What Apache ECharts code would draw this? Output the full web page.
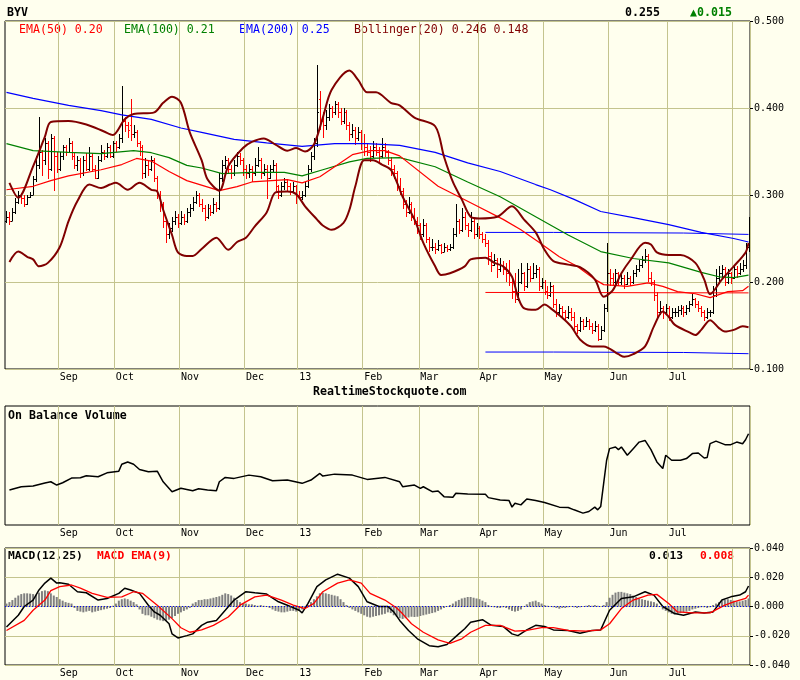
<!DOCTYPE html>
<html><head><meta charset="utf-8">
<script src="https://cdn.jsdelivr.net/npm/echarts@6/dist/echarts.min.js"></script>
<style>html,body{margin:0;padding:0;background:#ffffee}#c{width:800px;height:680px}</style>
</head><body><div id="c"></div>
<script>
// ---------------- DATA ----------------
const N_DAYS = 252;
const monthStarts = [18, 37, 59, 81, 99, 121, 140, 160, 182, 204, 224, 246];
const monthLabels = ['Sep', 'Oct', 'Nov', 'Dec', '13', 'Feb', 'Mar', 'Apr', 'May', 'Jun', 'Jul', ''];

const TICKER = 'BYV';
const LAST_PRICE = '0.255';
const CHANGE = '▲0.015';
const LEGEND_EMA50 = 'EMA(50) 0.20';
const LEGEND_EMA100 = 'EMA(100) 0.21';
const LEGEND_EMA200 = 'EMA(200) 0.25';
const LEGEND_BOLL = 'Bollinger(20) 0.246 0.148';
const MACD_LAST = '0.013';
const SIGNAL_LAST = '0.008';

// daily [open, high, low, close]
const ohlc = [
[0.270,0.282,0.268,0.275],[0.275,0.280,0.266,0.270],[0.270,0.285,0.270,0.280],[0.280,0.296,0.278,0.292],[0.292,0.305,0.290,0.300],[0.300,0.302,0.290,0.296],[0.296,0.300,0.286,0.290],[0.290,0.300,0.288,0.298],[0.298,0.303,0.296,0.300],[0.300,0.322,0.300,0.318],
[0.318,0.345,0.315,0.335],[0.335,0.390,0.330,0.350],[0.350,0.352,0.322,0.340],[0.340,0.365,0.335,0.360],[0.360,0.362,0.318,0.330],[0.330,0.370,0.328,0.365],[0.365,0.368,0.305,0.345],[0.345,0.350,0.325,0.330],[0.330,0.350,0.328,0.345],[0.345,0.358,0.340,0.355],
[0.355,0.358,0.345,0.350],[0.350,0.365,0.348,0.360],[0.360,0.362,0.340,0.345],[0.345,0.350,0.330,0.335],[0.335,0.345,0.328,0.340],[0.340,0.342,0.320,0.325],[0.325,0.345,0.322,0.340],[0.340,0.348,0.328,0.330],[0.330,0.355,0.328,0.345],[0.345,0.348,0.326,0.330],
[0.330,0.335,0.318,0.320],[0.320,0.345,0.318,0.340],[0.340,0.358,0.338,0.350],[0.350,0.352,0.340,0.345],[0.345,0.360,0.343,0.355],[0.355,0.358,0.342,0.345],[0.345,0.362,0.343,0.360],[0.360,0.362,0.350,0.355],[0.355,0.370,0.353,0.365],[0.365,0.425,0.360,0.385],
[0.385,0.390,0.372,0.380],[0.380,0.384,0.365,0.375],[0.380,0.410,0.362,0.370],[0.370,0.380,0.365,0.372],[0.372,0.375,0.355,0.360],[0.360,0.362,0.345,0.355],[0.355,0.357,0.318,0.325],[0.325,0.342,0.320,0.335],[0.335,0.340,0.322,0.330],[0.330,0.345,0.328,0.340],
[0.340,0.342,0.315,0.320],[0.320,0.322,0.295,0.300],[0.300,0.305,0.280,0.290],[0.290,0.292,0.262,0.270],[0.270,0.272,0.245,0.255],[0.255,0.268,0.250,0.262],[0.262,0.275,0.258,0.270],[0.270,0.282,0.265,0.275],[0.275,0.278,0.262,0.268],[0.268,0.282,0.265,0.275],
[0.275,0.278,0.265,0.270],[0.270,0.285,0.268,0.280],[0.280,0.290,0.275,0.285],[0.285,0.298,0.282,0.292],[0.292,0.305,0.290,0.300],[0.300,0.302,0.286,0.290],[0.290,0.295,0.280,0.285],[0.285,0.288,0.270,0.275],[0.275,0.290,0.272,0.285],[0.285,0.288,0.276,0.280],
[0.280,0.296,0.278,0.290],[0.290,0.292,0.280,0.285],[0.285,0.325,0.283,0.320],[0.320,0.340,0.315,0.335],[0.335,0.345,0.330,0.340],[0.340,0.342,0.325,0.330],[0.330,0.335,0.318,0.325],[0.325,0.340,0.322,0.335],[0.335,0.350,0.332,0.345],[0.345,0.348,0.335,0.340],
[0.340,0.342,0.322,0.330],[0.330,0.334,0.318,0.325],[0.325,0.336,0.320,0.330],[0.330,0.333,0.315,0.325],[0.325,0.342,0.322,0.335],[0.335,0.355,0.332,0.340],[0.340,0.342,0.318,0.325],[0.325,0.336,0.322,0.330],[0.330,0.334,0.295,0.320],[0.320,0.335,0.318,0.330],
[0.330,0.340,0.326,0.335],[0.335,0.337,0.305,0.310],[0.310,0.312,0.295,0.300],[0.300,0.315,0.298,0.310],[0.310,0.320,0.306,0.315],[0.315,0.318,0.305,0.310],[0.310,0.314,0.300,0.305],[0.305,0.315,0.302,0.310],[0.310,0.312,0.290,0.300],[0.300,0.305,0.295,0.298],
[0.298,0.305,0.294,0.300],[0.300,0.315,0.298,0.310],[0.310,0.335,0.308,0.330],[0.330,0.350,0.326,0.345],[0.345,0.365,0.340,0.360],[0.360,0.450,0.355,0.395],[0.410,0.420,0.375,0.385],[0.385,0.395,0.365,0.380],[0.380,0.398,0.375,0.390],[0.390,0.405,0.385,0.400],
[0.400,0.402,0.388,0.395],[0.395,0.408,0.392,0.405],[0.405,0.407,0.388,0.395],[0.395,0.400,0.380,0.385],[0.385,0.400,0.382,0.395],[0.395,0.398,0.375,0.380],[0.380,0.384,0.362,0.370],[0.370,0.382,0.366,0.375],[0.375,0.378,0.358,0.365],[0.365,0.378,0.362,0.372],
[0.372,0.375,0.352,0.360],[0.360,0.370,0.345,0.355],[0.355,0.360,0.345,0.350],[0.350,0.356,0.338,0.345],[0.345,0.362,0.342,0.355],[0.355,0.360,0.345,0.350],[0.350,0.355,0.338,0.345],[0.345,0.365,0.342,0.355],[0.355,0.360,0.344,0.350],[0.350,0.352,0.335,0.340],
[0.340,0.344,0.322,0.330],[0.330,0.335,0.318,0.325],[0.325,0.328,0.305,0.310],[0.310,0.320,0.300,0.305],[0.305,0.308,0.284,0.290],[0.290,0.294,0.275,0.280],[0.280,0.298,0.278,0.290],[0.290,0.292,0.270,0.275],[0.275,0.285,0.265,0.270],[0.270,0.275,0.255,0.265],
[0.265,0.268,0.248,0.255],[0.255,0.272,0.252,0.265],[0.265,0.268,0.245,0.250],[0.250,0.252,0.235,0.240],[0.240,0.250,0.236,0.240],[0.240,0.245,0.232,0.238],[0.238,0.248,0.236,0.242],[0.242,0.244,0.232,0.235],[0.235,0.245,0.234,0.240],[0.240,0.242,0.234,0.238],
[0.238,0.244,0.236,0.240],[0.240,0.262,0.238,0.255],[0.255,0.290,0.252,0.270],[0.270,0.272,0.255,0.260],[0.260,0.285,0.258,0.275],[0.275,0.280,0.260,0.265],[0.265,0.268,0.252,0.260],[0.260,0.280,0.258,0.270],[0.270,0.272,0.250,0.255],[0.255,0.268,0.252,0.262],
[0.262,0.264,0.250,0.255],[0.255,0.258,0.245,0.250],[0.250,0.255,0.240,0.245],[0.245,0.248,0.220,0.230],[0.230,0.235,0.212,0.220],[0.220,0.232,0.218,0.225],[0.225,0.228,0.205,0.215],[0.215,0.228,0.212,0.220],[0.220,0.224,0.208,0.215],[0.215,0.222,0.200,0.210],
[0.210,0.225,0.195,0.200],[0.200,0.204,0.180,0.190],[0.190,0.210,0.176,0.180],[0.180,0.215,0.178,0.200],[0.200,0.222,0.198,0.210],[0.210,0.212,0.190,0.195],[0.195,0.222,0.193,0.215],[0.215,0.218,0.200,0.205],[0.205,0.222,0.203,0.210],[0.210,0.220,0.205,0.215],
[0.215,0.217,0.190,0.195],[0.195,0.205,0.192,0.200],[0.200,0.202,0.185,0.190],[0.190,0.195,0.180,0.185],[0.185,0.200,0.183,0.195],[0.195,0.197,0.170,0.175],[0.175,0.180,0.160,0.165],[0.165,0.175,0.162,0.170],[0.170,0.172,0.160,0.165],[0.165,0.168,0.155,0.160],
[0.160,0.172,0.158,0.165],[0.165,0.170,0.155,0.160],[0.160,0.165,0.145,0.150],[0.150,0.152,0.140,0.145],[0.145,0.160,0.143,0.155],[0.155,0.158,0.145,0.150],[0.150,0.160,0.148,0.155],[0.155,0.157,0.145,0.150],[0.150,0.153,0.140,0.145],[0.145,0.155,0.143,0.150],
[0.150,0.152,0.132,0.135],[0.135,0.150,0.133,0.145],[0.145,0.175,0.143,0.170],[0.170,0.245,0.165,0.210],[0.210,0.215,0.195,0.205],[0.205,0.210,0.195,0.200],[0.200,0.215,0.198,0.210],[0.210,0.212,0.195,0.200],[0.200,0.210,0.196,0.205],[0.205,0.208,0.192,0.198],
[0.198,0.212,0.196,0.205],[0.205,0.207,0.195,0.200],[0.200,0.214,0.198,0.210],[0.210,0.220,0.206,0.215],[0.215,0.225,0.212,0.220],[0.220,0.230,0.216,0.225],[0.225,0.238,0.222,0.230],[0.230,0.232,0.200,0.205],[0.205,0.212,0.195,0.200],[0.200,0.202,0.178,0.185],
[0.185,0.188,0.160,0.165],[0.165,0.178,0.162,0.170],[0.170,0.172,0.158,0.165],[0.165,0.175,0.162,0.170],[0.170,0.172,0.155,0.160],[0.160,0.170,0.158,0.165],[0.165,0.170,0.160,0.165],[0.165,0.172,0.160,0.168],[0.168,0.174,0.162,0.170],[0.170,0.172,0.160,0.165],
[0.165,0.174,0.162,0.170],[0.170,0.178,0.166,0.175],[0.175,0.186,0.172,0.180],[0.180,0.182,0.170,0.175],[0.175,0.178,0.165,0.170],[0.170,0.172,0.160,0.165],[0.165,0.168,0.155,0.160],[0.160,0.170,0.158,0.165],[0.165,0.168,0.160,0.165],[0.165,0.195,0.163,0.185],
[0.185,0.215,0.183,0.205],[0.205,0.218,0.200,0.210],[0.210,0.220,0.205,0.215],[0.215,0.217,0.195,0.200],[0.200,0.215,0.198,0.210],[0.210,0.212,0.198,0.205],[0.205,0.220,0.203,0.215],[0.215,0.218,0.205,0.210],[0.210,0.222,0.208,0.215],[0.215,0.225,0.212,0.220],
[0.220,0.245,0.215,0.240],[0.240,0.275,0.235,0.255]
];

// indicator readings [dayIndex, value]
const ema200 = [[0,0.418],[9,0.411],[21,0.403],[32,0.397],[39,0.392],[49,0.387],[59,0.377],[66,0.372],[77,0.364],[88,0.360],[100,0.356],[111,0.359],[122,0.359],[133,0.357],[145,0.349],[156,0.337],[167,0.327],[179,0.312],[184,0.306],[192,0.295],[201,0.281],[212,0.274],[224,0.266],[235,0.257],[246,0.250],[251,0.246]];
const ema100 = [[0,0.359],[9,0.351],[21,0.349],[32,0.3475],[43,0.351],[49,0.3486],[55,0.343],[61,0.334],[66,0.331],[73,0.3245],[83,0.326],[94,0.326],[100,0.322],[107,0.329],[116,0.338],[122,0.342],[133,0.343],[145,0.3325],[156,0.315],[167,0.298],[179,0.275],[190,0.254],[201,0.235],[212,0.227],[224,0.222],[235,0.211],[241,0.206],[246,0.205],[251,0.208]];
const ema50 = [[0,0.306],[9,0.310],[15,0.3165],[21,0.322],[32,0.329],[39,0.335],[44,0.342],[49,0.339],[55,0.327],[61,0.3165],[72,0.305],[78,0.3096],[83,0.315],[95,0.3176],[100,0.314],[106,0.321],[111,0.3325],[117,0.3464],[123,0.351],[128,0.351],[133,0.345],[146,0.310],[157,0.291],[168,0.272],[174,0.260],[180,0.246],[187,0.229],[193,0.218],[199,0.203],[202,0.197],[210,0.195],[217,0.199],[222,0.195],[227,0.189],[233,0.1865],[238,0.182],[244,0.189],[249,0.190],[251,0.195]];
const bollUpper = [[1,0.314],[4,0.297],[9,0.333],[13,0.367],[15,0.384],[21,0.385],[27,0.381],[33,0.373],[36,0.369],[40,0.387],[43,0.393],[50,0.395],[53,0.406],[56,0.413],[59,0.406],[62,0.372],[66,0.340],[68,0.318],[72,0.305],[75,0.333],[80,0.354],[83,0.361],[87,0.365],[91,0.358],[95,0.351],[98,0.354],[101,0.350],[104,0.358],[107,0.389],[110,0.421],[116,0.443],[119,0.432],[122,0.418],[125,0.418],[130,0.406],[133,0.403],[138,0.389],[145,0.379],[148,0.344],[151,0.315],[154,0.295],[157,0.275],[160,0.273],[166,0.275],[171,0.287],[175,0.272],[179,0.257],[182,0.237],[185,0.224],[190,0.220],[194,0.217],[199,0.203],[202,0.183],[205,0.190],[208,0.210],[211,0.225],[216,0.245],[218,0.243],[220,0.234],[224,0.231],[228,0.231],[233,0.222],[236,0.203],[238,0.186],[242,0.203],[246,0.218],[250,0.234],[251,0.245]];
const bollLower = [[1,0.223],[4,0.235],[7,0.229],[9,0.226],[11,0.218],[14,0.222],[18,0.240],[21,0.270],[24,0.293],[28,0.312],[32,0.308],[35,0.312],[37,0.314],[41,0.306],[45,0.314],[49,0.306],[51,0.304],[53,0.283],[56,0.254],[58,0.234],[61,0.230],[63,0.230],[66,0.238],[71,0.251],[75,0.237],[78,0.246],[81,0.251],[84,0.264],[88,0.280],[91,0.303],[95,0.304],[98,0.301],[101,0.287],[105,0.272],[107,0.265],[110,0.260],[114,0.268],[116,0.283],[118,0.310],[121,0.340],[124,0.340],[127,0.335],[130,0.329],[132,0.315],[134,0.298],[138,0.272],[141,0.245],[145,0.218],[147,0.208],[150,0.210],[155,0.218],[157,0.226],[162,0.228],[165,0.222],[168,0.218],[171,0.206],[173,0.183],[175,0.170],[179,0.168],[182,0.174],[184,0.170],[188,0.159],[191,0.149],[194,0.134],[198,0.126],[202,0.126],[207,0.117],[209,0.114],[212,0.117],[216,0.126],[219,0.149],[222,0.166],[224,0.160],[226,0.151],[231,0.142],[233,0.139],[235,0.145],[238,0.156],[241,0.147],[243,0.143],[246,0.145],[249,0.149],[251,0.148]];
const resistanceLine = [[162,0.257],[185,0.257],[185,0.2563],[229,0.2563],[229,0.2547],[251,0.2547]];
const supportLine = [[162,0.1195],[185,0.1195],[185,0.119],[229,0.119],[229,0.1176],[251,0.1176]];
const pivotLine = [[162,0.188],[251,0.1875]];

// On Balance Volume (millions, unlabeled axis)
const obv = [[1,3.53],[5,3.86],[9,3.93],[13,4.23],[15,4.36],[17,4.03],[19,4.26],[22,4.73],[25,4.76],[27,4.96],[31,4.86],[34,5.26],[38,5.43],[39,6.13],[41,6.36],[43,6.13],[45,5.6],[48,5.36],[51,5.43],[53,4.36],[56,3.36],[59,3.7],[63,3.46],[65,3.66],[68,3.53],[71,3.46],[72,4.36],[74,4.8],[77,4.7],[82,5.03],[86,4.86],[90,4.46],[95,4.53],[100,4.2],[103,4.53],[106,5.2],[107,4.93],[111,5.13],[117,5.03],[122,4.6],[128,4.8],[133,4.36],[134,3.86],[138,4.03],[140,3.7],[141,3.86],[144,3.36],[146,3.43],[148,2.86],[151,2.8],[152,3.2],[156,3.13],[162,3.1],[163,2.76],[167,2.53],[170,2.46],[171,1.8],[172,2.2],[174,2.03],[176,2.63],[179,2.46],[182,2.26],[187,1.8],[190,1.76],[192,1.53],[195,1.2],[197,1.36],[199,1.8],[200,1.53],[201,1.86],[202,4.2],[203,6.53],[204,7.7],[206,7.86],[207,7.6],[208,7.86],[210,7.03],[212,7.7],[214,8.36],[216,8.53],[218,7.6],[220,6.36],[222,5.7],[223,7.03],[225,6.53],[228,6.53],[230,6.7],[232,7.2],[234,7.26],[236,6.76],[237,6.8],[238,8.2],[240,8.46],[243,8.1],[245,8.1],[247,8.36],[249,8.2],[250,8.6],[251,9.2]];

// MACD(12,25) and its EMA(9)
const macdLine = [[0,-0.014],[4,-0.006],[6,0.000],[9,0.0044],[11,0.0113],[13,0.016],[15,0.0194],[17,0.016],[18,0.0163],[21,0.0152],[24,0.0101],[27,0.0094],[31,0.0044],[34,0.0055],[38,0.009],[40,0.0125],[42,0.0113],[45,0.009],[48,0.0009],[50,-0.0037],[52,-0.006],[55,-0.0118],[56,-0.0187],[58,-0.0215],[61,-0.0199],[63,-0.0187],[66,-0.0129],[68,-0.0107],[71,-0.0095],[74,-0.0026],[77,0.0044],[81,0.0101],[84,0.0094],[88,0.0085],[92,0.0032],[95,0.0009],[99,-0.0026],[100,-0.0044],[102,0.0021],[105,0.0136],[108,0.0182],[112,0.0221],[116,0.0194],[119,0.0136],[122,0.0032],[126,0.000],[129,0.000],[131,-0.0037],[133,-0.0095],[136,-0.0164],[139,-0.0221],[143,-0.0268],[146,-0.0275],[149,-0.026],[153,-0.0187],[155,-0.0152],[157,-0.0107],[161,-0.009],[164,-0.0129],[168,-0.0136],[171,-0.0187],[173,-0.0199],[176,-0.016],[179,-0.0129],[182,-0.0136],[185,-0.016],[190,-0.0164],[194,-0.0183],[198,-0.0164],[201,-0.016],[204,-0.0026],[208,0.0055],[212,0.0066],[216,0.0101],[219,0.0078],[222,0.000],[226,-0.0048],[229,-0.006],[233,-0.0037],[236,-0.0044],[239,-0.0037],[242,0.0044],[245,0.0066],[248,0.0078],[250,0.0101],[251,0.014]];
const macdSignal = [[0,-0.0164],[6,-0.0095],[9,-0.0026],[13,0.0044],[15,0.0108],[18,0.0136],[22,0.0147],[25,0.0125],[29,0.009],[34,0.0062],[39,0.0066],[43,0.0101],[46,0.009],[51,0.0009],[56,-0.0083],[59,-0.0145],[62,-0.0176],[66,-0.016],[70,-0.0129],[75,-0.0072],[79,0.0009],[84,0.0066],[88,0.0078],[93,0.0044],[97,0.0009],[101,-0.0014],[104,0.0021],[107,0.0101],[112,0.016],[116,0.0182],[120,0.016],[123,0.009],[128,0.0044],[132,-0.001],[134,-0.005],[137,-0.0118],[141,-0.0176],[146,-0.0228],[150,-0.0252],[154,-0.0221],[157,-0.0176],[162,-0.0129],[167,-0.0129],[172,-0.0169],[176,-0.0164],[181,-0.0145],[185,-0.0145],[190,-0.0164],[196,-0.0169],[201,-0.016],[204,-0.0118],[208,-0.0014],[212,0.0044],[217,0.0078],[220,0.0083],[224,0.0021],[227,-0.0037],[232,-0.0044],[238,-0.0044],[243,0.0009],[246,0.0032],[250,0.0055],[251,0.0078]];
const macdHist = [
0.002,0.003,0.0044,0.006,0.0075,0.0085,0.009,0.009,0.0088,0.0085,
0.008,0.0095,0.0105,0.011,0.0105,0.009,0.0075,0.0065,0.005,0.004,
0.003,0.0025,0.002,-0.001,-0.003,-0.0035,-0.004,-0.0035,-0.003,-0.004,
-0.0035,-0.003,-0.0025,-0.002,-0.0015,-0.001,0.0005,0.002,0.004,0.005,
0.0055,0.005,0.004,0.003,0.0015,-0.002,-0.005,-0.006,-0.006,-0.007,
-0.008,-0.009,-0.0095,-0.01,-0.0098,-0.009,-0.008,-0.0065,-0.005,-0.004,
-0.003,-0.002,-0.001,0.002,0.003,0.0044,0.0045,0.005,0.005,0.0055,
0.006,0.0065,0.007,0.008,0.009,0.0085,0.0075,0.006,0.0045,0.003,
0.002,0.002,0.0015,0.0015,0.001,0.0005,0.001,0.0005,0,-0.001,
-0.002,-0.003,-0.0035,-0.004,-0.004,-0.0035,-0.003,-0.003,-0.0035,-0.003,
-0.002,-0.001,0.001,0.003,0.005,0.007,0.009,0.0095,0.009,0.0085,
0.008,0.0075,0.007,0.005,0.003,0.001,-0.001,-0.002,-0.003,-0.004,
-0.005,-0.006,-0.007,-0.0075,-0.007,-0.0065,-0.006,-0.0055,-0.005,-0.004,
-0.0045,-0.006,-0.007,-0.008,-0.0085,-0.008,-0.0075,-0.007,-0.0072,-0.007,
-0.0065,-0.006,-0.0055,-0.005,-0.0045,-0.004,-0.003,-0.002,-0.001,0,
0.001,0.002,0.0035,0.0045,0.0055,0.006,0.0065,0.0065,0.006,0.0055,
0.005,0.004,0.003,0.001,0,-0.0005,-0.001,-0.001,-0.0005,-0.001,
-0.002,-0.003,-0.0035,-0.003,-0.002,0,0.0015,0.003,0.0035,0.004,
0.003,0.002,0.001,0.0005,0,-0.0005,-0.001,-0.0015,-0.001,-0.001,
-0.0005,0,-0.0005,-0.001,-0.0005,0,0.0005,0.001,0.0005,0.001,
0.0005,0,0.001,0.003,0.006,0.008,0.0095,0.01,0.01,0.0095,
0.009,0.0085,0.0075,0.0065,0.0055,0.005,0.0045,0.004,0.0035,0.003,
0.002,0,-0.002,-0.003,-0.004,-0.005,-0.0055,-0.005,-0.0045,-0.004,
-0.0035,-0.003,-0.002,-0.0015,-0.001,-0.0005,-0.0005,-0.001,-0.0005,0.001,
0.002,0.003,0.004,0.0045,0.005,0.0045,0.004,0.0035,0.0035,0.004,0.0045,0.0055
];

// ---------------- CHART ----------------
const BG = '#ffffee';
const GRID_C = '#c4c48e';
const MONO = '"DejaVu Sans Mono", "Liberation Mono", monospace';
const categories = Array.from({length: N_DAYS}, (_, i) => String(i));
const monthSet = new Set(monthStarts);
const labelOf = i => { const k = monthStarts.indexOf(i); return k >= 0 ? monthLabels[k] : ''; };
const ohlcData = ohlc.map((r, i) => [i, r[0], r[1], r[2], r[3]]);

function xAx(g) {
  return {
    type: 'category', gridIndex: g, data: categories, boundaryGap: true,
    axisLine: {show: false}, axisTick: {show: false},
    splitLine: {show: true, interval: (i) => monthSet.has(i), lineStyle: {color: GRID_C, width: 1}},
    axisLabel: {show: true, interval: (i) => monthSet.has(i) && labelOf(i) !== '',
      formatter: (v, i) => labelOf(Number(v)), align: 'left', margin: 3,
      color: '#000', fontFamily: MONO, fontSize: 10}
  };
}
const gridBase = {left: 5, right: 50, show: true, backgroundColor: BG, borderColor: '#000', borderWidth: 1};

const lineS = (data, color, width, xi, extra) => Object.assign({
  type: 'line', data, xAxisIndex: xi, yAxisIndex: xi, symbol: 'none', silent: true,
  lineStyle: {color, width}, animation: false
}, extra || {});

const txt = (x, y, text, fill, bold, size) => ({
  type: 'text', x, y, silent: true,
  style: {text, fill, font: (bold ? 'bold ' : '') + (size || 11.6) + 'px ' + MONO, verticalAlign: 'middle', align: 'left'}
});

const option = {
  backgroundColor: BG,
  animation: false,
  grid: [
    Object.assign({top: 21, height: 348}, gridBase),
    Object.assign({top: 406, height: 119}, gridBase),
    Object.assign({top: 548, height: 117}, gridBase)
  ],
  xAxis: [xAx(0), xAx(1), xAx(2)],
  yAxis: [
    {type: 'value', gridIndex: 0, position: 'right', min: 0.1, max: 0.5, interval: 0.1,
      axisLine: {show: false}, axisTick: {show: true, length: 3, lineStyle: {color: '#000'}},
      splitLine: {lineStyle: {color: GRID_C}},
      axisLabel: {margin: 4, formatter: v => v.toFixed(3), color: '#000', fontFamily: MONO, fontSize: 10}},
    {type: 'value', gridIndex: 1, position: 'right', min: 0, max: 12,
      axisLine: {show: false}, axisTick: {show: false}, splitLine: {show: false}, axisLabel: {show: false}},
    {type: 'value', gridIndex: 2, position: 'right', min: -0.04, max: 0.04, interval: 0.02,
      axisLine: {show: false}, axisTick: {show: true, length: 3, lineStyle: {color: '#000'}},
      splitLine: {lineStyle: {color: GRID_C}},
      axisLabel: {margin: 4, formatter: v => v.toFixed(3), color: '#000', fontFamily: MONO, fontSize: 10}}
  ],
  series: [
    {
      type: 'custom', xAxisIndex: 0, yAxisIndex: 0, data: ohlcData, silent: true, clip: true,
      encode: {x: 0, y: [1, 2, 3, 4]},
      renderItem: (params, api) => {
        const i = api.value(0);
        const o = api.value(1), h = api.value(2), l = api.value(3), c = api.value(4);
        const pH = api.coord([i, h]), pL = api.coord([i, l]);
        const pO = api.coord([i, o]), pC = api.coord([i, c]);
        const w = api.size([1, 0])[0];
        const x = Math.round(pH[0]) + 0.5;
        const color = c >= o ? '#000000' : '#ff0000';
        const st = {stroke: color, lineWidth: 1};
        return {type: 'group', children: [
          {type: 'line', shape: {x1: x, y1: Math.round(pH[1]), x2: x, y2: Math.round(pL[1])}, style: st},
          {type: 'line', shape: {x1: x - w / 2, y1: Math.round(pO[1]) + 0.5, x2: x, y2: Math.round(pO[1]) + 0.5}, style: st},
          {type: 'line', shape: {x1: x, y1: Math.round(pC[1]) + 0.5, x2: x + w / 2, y2: Math.round(pC[1]) + 0.5}, style: st}
        ]};
      }
    },
    lineS(resistanceLine, '#0000ff', 1, 0),
    lineS(supportLine, '#0000ff', 1, 0),
    lineS(pivotLine, '#ff0000', 1, 0),
    lineS(ema200, '#0000ff', 1.2, 0),
    lineS(ema100, '#008000', 1.2, 0),
    lineS(ema50, '#ff0000', 1.2, 0),
    lineS(bollUpper, '#800000', 2, 0, {smooth: 0.3}),
    lineS(bollLower, '#800000', 2, 0, {smooth: 0.3}),
    lineS(obv, '#000000', 1.5, 1),
    {
      type: 'bar', xAxisIndex: 2, yAxisIndex: 2, data: macdHist, barWidth: 2, silent: true,
      itemStyle: {color: '#808080'},
      markLine: {silent: true, symbol: 'none', label: {show: false},
        lineStyle: {color: '#0000ff', type: [1, 2], width: 1}, data: [{yAxis: 0}]}
    },
    lineS(macdLine, '#000000', 1.5, 2),
    lineS(macdSignal, '#ff0000', 1.3, 2)
  ],
  graphic: [
    txt(7, 12.5, TICKER, '#000', true),
    txt(625, 12.5, LAST_PRICE, '#000', true),
    txt(690, 12.5, CHANGE, '#008000', true),
    txt(19, 30, LEGEND_EMA50, '#ff0000', false),
    txt(124, 30, LEGEND_EMA100, '#008000', false),
    txt(239, 30, LEGEND_EMA200, '#0000ff', false),
    txt(354, 30, LEGEND_BOLL, '#800000', false),
    txt(313, 392, 'RealtimeStockquote.com', '#000', true),
    txt(8, 416, 'On Balance Volume', '#000', true),
    txt(8, 556, 'MACD(12,25)', '#000', true, 11.3),
    txt(97, 556, 'MACD EMA(9)', '#ff0000', true, 11.3),
    txt(649, 556, MACD_LAST, '#000', true, 11.3),
    txt(700, 556, SIGNAL_LAST, '#ff0000', true, 11.3)
  ]
};
const chart = echarts.init(document.getElementById('c'));
chart.setOption(option);
</script></body></html>
